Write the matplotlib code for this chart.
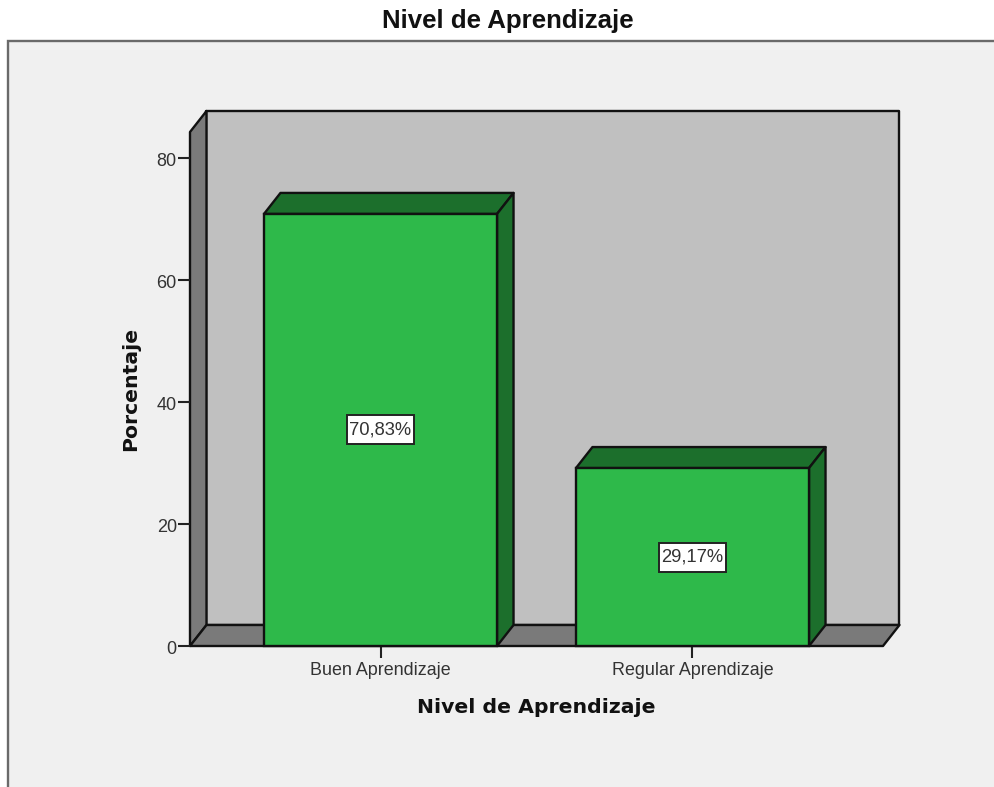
import matplotlib.pyplot as plt
import matplotlib.transforms as mtrans
from matplotlib.patches import Polygon, Rectangle

niveles = ["Buen Aprendizaje", "Regular Aprendizaje"]
porcentajes = [70.83, 29.17]
etiquetas = ["70,83%", "29,17%"]
yticks = [0, 20, 40, 60, 80]

W, H = 995, 787
x0, x1 = -0.6106, 1.6106
y0, y1 = 0, 84.26
# profundidad del efecto 3D en unidades de datos
dx = 16.5 / 312
dy = 21 / 6.1
ancho = 0.747
# caja de las etiquetas, tambien en unidades de datos
caja_w = 67 / 312
caja_h = 29 / 6.1

VERDE = "#2eb94a"
VERDE_OSC = "#1c6f2c"
GRIS = "#7a7a7a"
PARED = "#c0c0c0"
FONDO = "#f0f0f0"
LINEA = "#111111"


def cara(ax, puntos, color, z=2):
    ax.add_patch(Polygon(puntos, closed=True, facecolor=color, edgecolor=LINEA,
                         linewidth=1.7, joinstyle="round", clip_on=False, zorder=z))


fig = plt.figure(figsize=(W / 100, H / 100), dpi=100, facecolor="white")

# panel gris de fondo
fig.add_artist(Rectangle((8 / W, -0.05), 1.1, 0.05 + (H - 41) / H, transform=fig.transFigure,
                         facecolor=FONDO, edgecolor="#6a6a6a", linewidth=1.7, zorder=-1))

ax = fig.add_axes([190 / W, (H - 646) / H, (883 - 190) / W, (646 - 132) / H])
ax.set_xlim(x0, x1)
ax.set_ylim(y0, y1)
ax.patch.set_visible(False)

# pared del fondo, lateral y piso
cara(ax, [(x0 + dx, dy), (x1 + dx, dy), (x1 + dx, y1 + dy), (x0 + dx, y1 + dy)], PARED, 1)
cara(ax, [(x0, 0), (x0 + dx, dy), (x0 + dx, y1 + dy), (x0, y1)], GRIS, 1)
cara(ax, [(x0, 0), (x1, 0), (x1 + dx, dy), (x0 + dx, dy)], GRIS, 1)

posiciones = list(range(len(niveles)))
for i, v in zip(posiciones, porcentajes):
    izq, der = i - ancho / 2, i + ancho / 2
    cara(ax, [(izq, v), (der, v), (der + dx, v + dy), (izq + dx, v + dy)], VERDE_OSC, 3)
    cara(ax, [(der, 0), (der + dx, dy), (der + dx, v + dy), (der, v)], VERDE_OSC, 3)

ax.bar(posiciones, porcentajes, width=ancho, color=VERDE, edgecolor=LINEA, linewidth=1.7,
       zorder=4, clip_on=False)

for i, v, txt in zip(posiciones, porcentajes, etiquetas):
    ax.add_patch(Rectangle((i - caja_w / 2, v / 2 - caja_h / 2), caja_w, caja_h, facecolor="white",
                           edgecolor="#222222", linewidth=1.4, zorder=5))
    ax.text(i, v / 2, txt, ha="center", va="center", fontsize=13.2, color="#333333",
            family="Liberation Sans", zorder=6)

for lado in ax.spines.values():
    lado.set_visible(False)

ax.set_xticks(posiciones)
ax.set_xticklabels(niveles, family="Liberation Sans", fontsize=12.9, color="#333333")
ax.set_yticks(yticks)
ax.set_yticklabels(yticks, family="Liberation Sans", fontsize=13, color="#333333")
ax.tick_params(axis="both", length=8.5, width=1.5, color="#222222", pad=1)
ax.tick_params(axis="x", pad=3)

# las etiquetas del eje y quedan un poco por debajo de la marca
baja = mtrans.ScaledTranslation(0, -2 / 100, fig.dpi_scale_trans)
for lab in ax.get_yticklabels():
    lab.set_transform(lab.get_transform() + baja)

ax.set_xlabel("Nivel de Aprendizaje", family="DejaVu Sans", fontweight="bold", fontsize=14.7,
              color="#111111")
ax.xaxis.set_label_coords((536 - 190) / (883 - 190), -(707.5 - 646) / (646 - 132))
ax.xaxis.label.set_va("center")
ax.set_ylabel("Porcentaje", family="DejaVu Sans", fontweight="bold", fontsize=14.7, color="#111111")
ax.yaxis.set_label_coords((131 - 190) / (883 - 190), (646 - 388.5) / (646 - 132))
ax.yaxis.label.set_va("center")

fig.text(507.5 / W, (H - 21) / H, "Nivel de Aprendizaje", family="Liberation Sans", fontweight="bold",
         fontsize=18.6, color="#111111", ha="center", va="center")

fig.savefig("out.png", dpi=100)
